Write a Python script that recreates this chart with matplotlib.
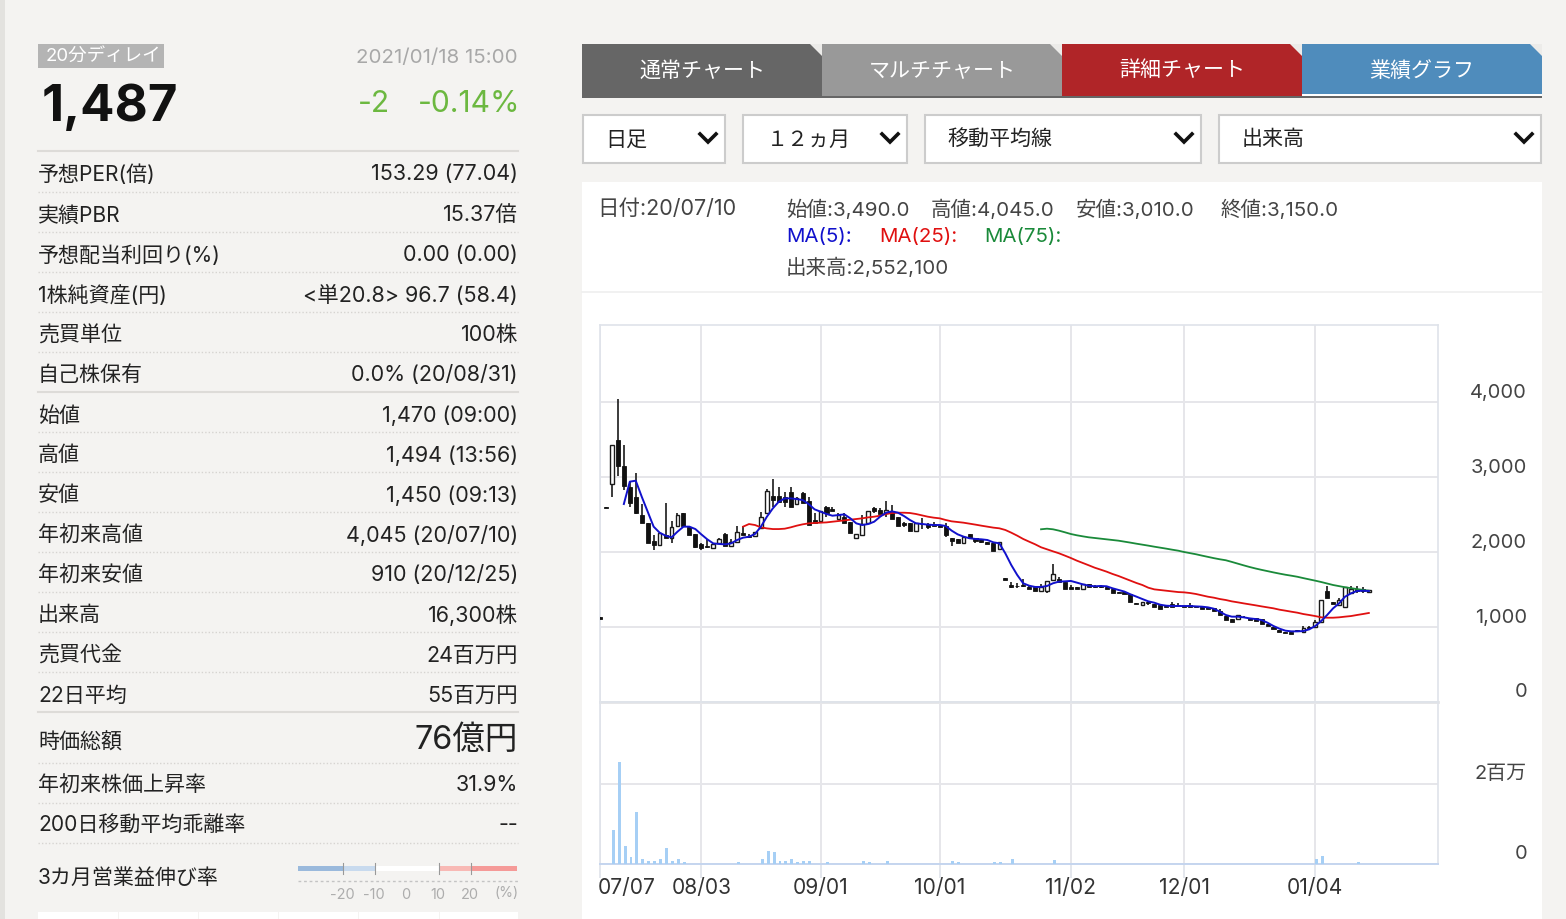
import numpy as np
import matplotlib
matplotlib.use("Agg")
import matplotlib.pyplot as plt
from matplotlib.patches import Rectangle, Polygon

plt.rcParams["font.family"] = ["Inter", "Noto Sans CJK JP", "DejaVu Sans"]

W, H = 1566, 920
BG = "#f4f3f1"

row_labels = ["予想PER(倍)", "実績PBR", "予想配当利回り(%)", "1株純資産(円)", "売買単位", "自己株保有",
              "始値", "高値", "安値", "年初来高値", "年初来安値", "出来高", "売買代金", "22日平均",
              "時価総額", "年初来株価上昇率", "200日移動平均乖離率"]
row_values = ["153.29 (77.04)", "15.37倍", "0.00 (0.00)", "<単20.8> 96.7 (58.4)", "100株", "0.0% (20/08/31)",
              "1,470 (09:00)", "1,494 (13:56)", "1,450 (09:13)", "4,045 (20/07/10)", "910 (20/12/25)", "16,300株",
              "24百万円", "55百万円", "76億円", "31.9%", "--"]
row_y = [173, 214, 254, 294, 334, 374, 414, 454, 494, 534, 574, 614, 654, 694, 741, 784, 824]
dotted_y = [192, 232, 272, 312, 352, 432, 472, 512, 552, 592, 632, 672, 763, 803, 843]
solid_y = [151, 392, 712]

tab_names = ["通常チャート", "マルチチャート", "詳細チャート", "業績グラフ"]
tab_colors = ["#666666", "#999999", "#b02528", "#4f8cbc"]
select_names = ["日足", "１２ヵ月", "移動平均線", "出来高"]

opens = [1130, 2600, 2906, 3490, 3151, 2871, 2729, 2493, 2382, 2146,
         2098, 2227, 2182, 2351, 2515, 2338, 2240, 2107, 2080, 2058,
         2115, 2240, 2080, 2138, 2258, 2213, 2213, 2315, 2524, 2747,
         2747, 2729, 2804, 2640, 2782, 2684, 2427, 2418, 2604, 2569,
         2444, 2462, 2404, 2182, 2227, 2382, 2582, 2560, 2515, 2551,
         2471, 2391, 2391, 2285, 2378, 2373, 2369, 2360, 2347, 2191,
         2169, 2125, 2236, 2191, 2169, 2129, 2116, 2036, 1650, 1560,
         1552, 1560, 1538, 1529, 1485, 1480, 1627, 1636, 1605, 1538,
         1529, 1503, 1569, 1547, 1547, 1538, 1512, 1471, 1463, 1436,
         1325, 1293, 1329, 1306, 1289, 1285, 1302, 1289, 1285, 1293,
         1280, 1280, 1266, 1249, 1218, 1151, 1106, 1102, 1138, 1120,
         1115, 1106, 1044, 1004, 960, 933, 933, 964, 938, 995,
         1004, 1062, 1484, 1338, 1293, 1271, 1458, 1502, 1502, 1470]
closes = [1110, 2590, 3426, 3150, 2884, 2657, 2515, 2391, 2115, 2093,
          2258, 2182, 2338, 2493, 2351, 2227, 2071, 2049, 2071, 2107,
          2169, 2084, 2138, 2271, 2227, 2195, 2271, 2462, 2813, 2693,
          2671, 2671, 2604, 2715, 2657, 2360, 2391, 2547, 2524, 2547,
          2493, 2382, 2249, 2235, 2369, 2551, 2547, 2507, 2560, 2444,
          2351, 2360, 2285, 2382, 2369, 2338, 2347, 2338, 2227, 2151,
          2125, 2205, 2183, 2151, 2138, 2103, 2014, 2129, 1630, 1538,
          1543, 1547, 1503, 1480, 1538, 1618, 1703, 1605, 1503, 1503,
          1503, 1569, 1538, 1534, 1530, 1512, 1458, 1455, 1440, 1329,
          1305, 1338, 1320, 1271, 1244, 1270, 1271, 1275, 1270, 1271,
          1266, 1244, 1235, 1213, 1160, 1093, 1071, 1160, 1130, 1093,
          1080, 1035, 1013, 969, 929, 915, 910, 951, 991, 985,
          1062, 1360, 1382, 1306, 1360, 1529, 1506, 1484, 1484, 1487]
highs = [1130, 2600, 3426, 4045, 3426, 2938, 3049, 2640, 2382, 2227,
         2258, 2649, 2418, 2515, 2515, 2338, 2240, 2124, 2169, 2115,
         2182, 2258, 2169, 2347, 2347, 2240, 2271, 2538, 2835, 2969,
         2871, 2804, 2862, 2738, 2804, 2729, 2515, 2547, 2613, 2604,
         2524, 2524, 2404, 2235, 2493, 2551, 2604, 2582, 2684, 2622,
         2471, 2404, 2391, 2382, 2449, 2382, 2405, 2360, 2382, 2191,
         2169, 2205, 2236, 2191, 2169, 2129, 2116, 2129, 1650, 1605,
         1583, 1640, 1560, 1529, 1569, 1618, 1836, 1663, 1605, 1560,
         1529, 1569, 1569, 1560, 1555, 1547, 1512, 1471, 1463, 1436,
         1325, 1338, 1338, 1306, 1289, 1285, 1338, 1315, 1285, 1315,
         1280, 1280, 1266, 1249, 1235, 1151, 1106, 1160, 1145, 1120,
         1115, 1106, 1044, 1004, 960, 933, 933, 964, 1018, 1018,
         1093, 1360, 1546, 1338, 1382, 1529, 1546, 1546, 1528, 1494]
lows = [1110, 2590, 2737, 3010, 2826, 2604, 2502, 2391, 2115, 2026,
        2098, 2182, 2115, 2351, 2351, 2227, 2049, 2026, 2049, 2058,
        2115, 2084, 2080, 2115, 2227, 2182, 2213, 2315, 2524, 2604,
        2671, 2604, 2604, 2626, 2657, 2360, 2391, 2418, 2462, 2547,
        2444, 2382, 2249, 2182, 2227, 2382, 2515, 2507, 2471, 2444,
        2351, 2329, 2285, 2285, 2302, 2302, 2347, 2338, 2204, 2080,
        2125, 2125, 2183, 2125, 2116, 2103, 2014, 2036, 1630, 1516,
        1516, 1538, 1503, 1480, 1485, 1449, 1627, 1605, 1503, 1503,
        1503, 1503, 1538, 1525, 1525, 1512, 1458, 1455, 1440, 1329,
        1305, 1293, 1300, 1271, 1244, 1270, 1271, 1275, 1270, 1271,
        1266, 1244, 1235, 1213, 1160, 1093, 1071, 1102, 1120, 1093,
        1080, 1035, 1013, 969, 929, 915, 910, 951, 938, 960,
        982, 1062, 1382, 1306, 1293, 1271, 1458, 1449, 1460, 1450]

ma5 = [2640, 2938, 2951, 2738, 2538, 2338, 2258, 2218, 2195, 2271,
       2338, 2338, 2306, 2235, 2169, 2115, 2107, 2102, 2115, 2160,
       2191, 2204, 2240, 2338, 2471, 2582, 2671, 2715, 2715, 2706,
       2693, 2640, 2569, 2538, 2507, 2484, 2493, 2502, 2449, 2382,
       2360, 2373, 2404, 2471, 2524, 2542, 2524, 2480, 2427, 2383,
       2374, 2365, 2360, 2360, 2347, 2285, 2236, 2205, 2183, 2174,
       2169, 2160, 2129, 2116, 1983, 1827, 1694, 1583, 1551, 1534,
       1534, 1547, 1583, 1605, 1609, 1614, 1592, 1569, 1551, 1543,
       1547, 1543, 1516, 1494, 1472, 1436, 1405,
       1373, 1342, 1324, 1297, 1284, 1280, 1280, 1280, 1280, 1275,
       1271, 1262, 1244, 1204, 1160, 1138, 1138, 1129, 1115, 1106,
       1093, 1057, 1013, 978, 951, 942, 942, 946, 969, 1013,
       1080, 1160, 1249, 1315, 1404, 1449, 1480, 1484, 1480]
ma25 = [2338, 2373, 2360, 2329, 2315, 2306, 2306, 2311, 2329, 2351,
        2369, 2382, 2387, 2391, 2395, 2404, 2413, 2422, 2431, 2440,
        2449, 2462, 2471, 2484, 2507, 2520, 2524, 2524, 2520, 2507,
        2489, 2471, 2458, 2449, 2427, 2409, 2400, 2391, 2378, 2365,
        2351, 2338, 2325, 2316, 2294, 2258, 2218, 2174, 2138, 2103,
        2063, 2036, 2009, 1983, 1952, 1920, 1885, 1854, 1823, 1791,
        1765, 1738, 1707, 1680, 1649, 1618, 1587,
        1560, 1524, 1502, 1493, 1484, 1475, 1466, 1462, 1453, 1440,
        1422, 1404, 1391, 1373, 1360, 1342, 1329, 1315, 1302, 1289,
        1275, 1262, 1249, 1231, 1218, 1204, 1191, 1173, 1160, 1146,
        1129, 1124, 1124, 1129, 1138, 1146, 1160, 1173, 1187]
ma75 = [2303, 2311, 2303, 2285, 2263, 2240, 2223, 2209, 2196, 2187,
        2178, 2169, 2160, 2151, 2138, 2125, 2111,
        2098, 2085, 2071, 2058, 2045, 2031, 2018, 2000, 1985, 1970,
        1952, 1935, 1918, 1903, 1890, 1868, 1845, 1822, 1800, 1780,
        1762, 1745, 1728, 1712, 1697, 1684, 1670, 1652, 1635, 1618,
        1600, 1580, 1560, 1545, 1530, 1518, 1506, 1495, 1484]

volume_days = [2, 3, 4, 5, 6, 7, 8, 9, 10, 11, 12, 13, 14, 23, 27, 28, 29, 30, 31, 32, 33, 34, 35,
               38, 44, 45, 48, 59, 60, 66, 67, 69, 76, 120, 121, 127]
volumes = [850000, 2552100, 450000, 167000, 1292000, 125000, 83000, 83000, 125000, 408000, 83000, 125000, 42000,
           42000, 125000, 333000, 292000, 83000, 83000, 125000, 42000, 83000, 83000,
           42000, 83000, 42000, 83000, 83000, 42000, 42000, 42000, 133000, 92000, 125000, 200000, 42000]

date_ticks = [0, 17, 37, 57, 79, 98, 120]
date_labels = ["07/07", "08/03", "09/01", "10/01", "11/02", "12/01", "01/04"]
price_ticks = [0, 1000, 2000, 3000, 4000]
price_labels = ["0", "1,000", "2,000", "3,000", "4,000"]
volume_ticks = [0, 2000000]
volume_labels = ["0", "2百万"]

gauge_edges = [-34.5, -20, -10, 10, 20, 34.5]
gauge_colors = ["#9ab9dc", "#c8daee", "#ffffff", "#f8b9b5", "#f59a98"]
gauge_labels = [-20, -10, 0, 10, 20]


def pt(px):
    return px * 0.72


def add_ax(left, top, right, bottom):
    return fig.add_axes([left / W, 1 - (bottom + 1) / H, (right - left) / W, (bottom - top) / H])


fig = plt.figure(figsize=(W / 100, H / 100), dpi=100, facecolor=BG)

# page layer in pixel coordinates
page = fig.add_axes([0, 0, 1, 1])
page.set_xlim(0, W)
page.set_ylim(H - 1, -1)
page.axis("off")


def box(x0, y0, x1, y1, color, **kw):
    page.add_patch(Rectangle((x0, y0), x1 - x0, y1 - y0, facecolor=color, edgecolor=kw.pop("edge", "none"), **kw))


def label(x, y, s, px=21, color="#222222", ha="left", **kw):
    page.text(x, y + 0.5, s, fontsize=pt(px), color=color, ha=ha, va="center", **kw)


box(0, -1, 5, H, "#e3e2df")

# left column
box(38, 44, 164, 68, "#b4b4b4")
label(46, 55, "20分ディレイ", 18.5, "white")
label(518, 57, "2021/01/18 15:00", 20.5, "#a8a8a8", ha="right")
label(42, 106, "1,487", 51, "#111111", fontweight="bold")
label(390, 103, "-2", 30, "#6cb840", ha="right")
label(520, 103, "-0.14%", 30, "#6cb840", ha="right")

for y in solid_y:
    page.plot([38, 518], [y, y], color="#dddbd8", lw=1.5)
for y in dotted_y:
    page.plot([38, 518], [y, y], color="#d6d4d1", lw=1, ls=(0, (1, 1.5)))
for name, val, y in zip(row_labels, row_values, row_y):
    label(38, y, name, 21, "#222222")
    if val == "76億円":
        label(518, y - 2, val, 32.5, "#222222", ha="right")
    else:
        label(518, y, val, 21.5, "#222222", ha="right")

# 3 month gauge
label(38, 876, "3カ月営業益伸び率", 21, "#222222")
gauge_x = lambda v: 407 + v * 3.2
for lo, hi, c in zip(gauge_edges[:-1], gauge_edges[1:], gauge_colors):
    box(max(gauge_x(lo), 298), 866, min(gauge_x(hi), 518), 871, c)
for v in gauge_edges[1:-1]:
    page.plot([gauge_x(v)] * 2, [863, 874], color="#999999", lw=0.8)
page.plot([298, 518], [881, 881], color="#c4c4c4", lw=1, ls=(0, (2, 2)))
for v in gauge_labels:
    label(gauge_x(v) - 1, 894, str(v), 14.5, "#adadad", ha="center")
label(519, 892, "(%)", 14, "#adadad", ha="right")
for x0, x1 in zip([38, 119, 199, 279, 359, 440], [118, 198, 278, 358, 439, 518]):
    box(x0, 912, x1, H, "white")

# tabs
box(582, 96, 1542, 98, "#666666")
for n, (name, c) in enumerate(zip(tab_names, tab_colors)):
    x0 = 582 + n * 240
    box(x0, 44, x0 + 240, 96, c)
    page.add_patch(Polygon([(x0 + 228, 44), (x0 + 240, 44), (x0 + 240, 56)], facecolor="#ecebe9", edgecolor="none"))
    label(x0 + 120, 69, name, 21, "white", ha="center")
box(1302, 94, 1542, 96, "white")

# select boxes
select_spans = [(582, 726), (742, 908), (924, 1202), (1218, 1542)]
select_text_x = [605, 767, 947, 1242]
for (x0, x1), name, tx in zip(select_spans, select_names, select_text_x):
    box(x0 + 1, 115, x1 - 1, 163, "white", edge="#cccccc", lw=1.5)
    label(tx, 138, name, 21, "#222222")
    page.plot([x1 - 26, x1 - 18, x1 - 10], [134, 142, 134], color="#111111", lw=2.6, solid_joinstyle="miter")

# chart panel
box(582, 182, 1542, H, "white")
page.plot([582, 1542], [292, 292], color="#efefef", lw=1.2)
label(597, 208, "日付:20/07/10", 21.5, "#444444")
for x, s in zip([786, 931, 1076, 1221], ["始値:3,490.0", "高値:4,045.0", "安値:3,010.0", "終値:3,150.0"]):
    label(x, 208, s, 20.5, "#444444")
for x, s, c in zip([786, 879, 984], ["MA(5):", "MA(25):", "MA(75):"], ["#1111cc", "#e01010", "#1a8a3a"]):
    label(x, 236, s, 20.5, c)
label(786, 266, "出来高:2,552,100", 20.5, "#444444")

# price chart
days = np.arange(len(opens))
op = np.array(opens)
cl = np.array(closes)

ax = add_ax(600, 325, 1438, 702)
ax.set_facecolor("none")
ax.set_xlim(0, 140.6)
ax.set_ylim(0, 5027)
ax.set_xticks(date_ticks)
ax.set_yticks(price_ticks)
ax.set_xticklabels([])
ax.set_yticklabels([])
ax.tick_params(length=0)
ax.grid(True, color="#e6e6ea", lw=1.4)
ax.set_axisbelow(True)
for s in ax.spines.values():
    s.set_color("#dfe3ea")
    s.set_linewidth(1.2)
ax.spines["bottom"].set_color("#e3e3e6")
ax.spines["bottom"].set_linewidth(2)

ax.vlines(days, lows, highs, color="#1a1a1a", lw=1.2, zorder=3)
up = cl > op
ax.bar(days[up], (cl - op)[up], bottom=op[up], width=0.6, facecolor="white", edgecolor="#1a1a1a", lw=1.0, zorder=4)
ax.bar(days[~up], (op - cl)[~up], bottom=cl[~up], width=0.68, facecolor="#111111", edgecolor="#111111", lw=0.6, zorder=4)

ax.plot(np.arange(4, 130), ma5, color="#1111cc", lw=1.4, zorder=6, solid_joinstyle="round")
ax.plot(np.arange(24, 130), ma25, color="#e01010", lw=1.3, zorder=5, solid_joinstyle="round")
ax.plot(np.arange(74, 130), ma75, color="#1a8a3a", lw=1.3, zorder=5, solid_joinstyle="round")

for v, s in zip(price_ticks, price_labels):
    ax.annotate(s, xy=(1, v), xycoords=("axes fraction", "data"), xytext=(pt(89), pt(10.5)),
                textcoords="offset points", ha="right", va="center", fontsize=pt(20), color="#444444")

# volume chart
vx = add_ax(600, 702, 1438, 864)
vx.set_facecolor("none")
vx.set_xlim(0, 140.6)
vx.set_ylim(0, 4050000)
vx.set_xticks(date_ticks)
vx.set_yticks(volume_ticks)
vx.set_xticklabels([])
vx.set_yticklabels([])
vx.tick_params(axis="y", length=0)
vx.tick_params(axis="x", length=pt(14), color="#dfe3ea", width=1.2)
vx.grid(True, color="#e6e6ea", lw=1.4)
vx.set_axisbelow(True)
for side in ["top", "left", "right"]:
    vx.spines[side].set_color("#dfe3ea")
    vx.spines[side].set_linewidth(1.2)
vx.spines["bottom"].set_color("#c5d5ef")
vx.spines["bottom"].set_linewidth(1.4)
vx.bar(np.array(volume_days) + 0.2, volumes, width=0.5, color="#a6cff5", zorder=3)

for v, s in zip(volume_ticks, volume_labels):
    vx.annotate(s, xy=(1, v), xycoords=("axes fraction", "data"), xytext=(pt(89), pt(10.5)),
                textcoords="offset points", ha="right", va="center", fontsize=pt(20), color="#444444")
for n, (d, s) in enumerate(zip(date_ticks, date_labels)):
    vx.annotate(s, xy=(d, 0), xycoords="data", xytext=(pt(-2) if n == 0 else 0, pt(-23.5)),
                textcoords="offset points", ha="left" if n == 0 else "center", va="center",
                fontsize=pt(21), color="#333333")

fig.savefig("out.png", dpi=100, facecolor=BG)
